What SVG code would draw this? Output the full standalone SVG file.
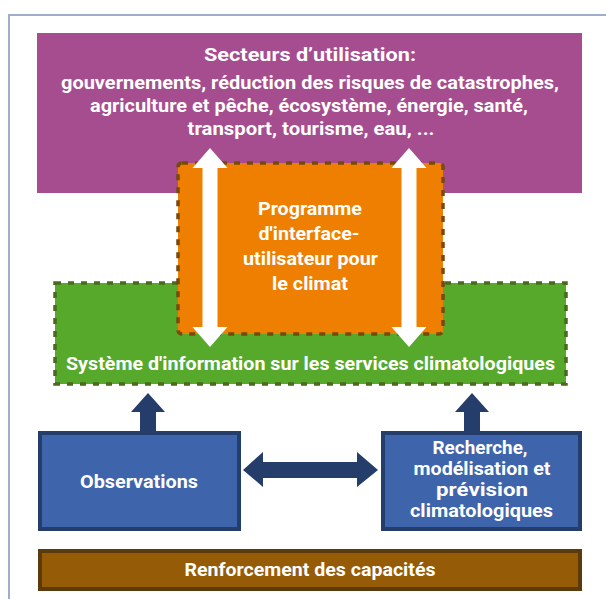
<svg xmlns="http://www.w3.org/2000/svg" width="606" height="599" viewBox="0 0 606 599">
  <defs>
    <style>
      .lbl { font-family: Roboto, "Liberation Sans", Arial, sans-serif; font-weight: bold; font-size: 19px; fill: #ffffff; text-anchor: middle; }
      .frame { fill: none; stroke: #9eaec8; stroke-width: 2; }
      .dashed { stroke-width: 3.5; stroke-dasharray: 6 7; }
      .white-arrow { fill: #ffffff; }
      .navy-arrow { fill: #243d6b; }
    </style>
  </defs>

  <rect width="606" height="599" fill="#ffffff"/>

  <!-- outer frame -->
  <path class="frame" d="M9,599 V15 H606"/>

  <!-- user sectors -->
  <g id="secteurs">
    <rect x="37" y="33" width="545" height="160" fill="#a54d8f"/>
    <text class="lbl" x="310" y="61" textLength="212" lengthAdjust="spacingAndGlyphs">Secteurs d’utilisation:</text>
    <text class="lbl" x="310" y="89" textLength="498" lengthAdjust="spacingAndGlyphs">gouvernements, réduction des risques de catastrophes,</text>
    <text class="lbl" x="309" y="112" textLength="438" lengthAdjust="spacingAndGlyphs">agriculture et pêche, écosystème, énergie, santé,</text>
    <text class="lbl" x="311" y="135" textLength="247" lengthAdjust="spacingAndGlyphs">transport, tourisme, eau, ...</text>
  </g>

  <!-- climate services information system -->
  <g id="sisc">
    <rect class="dashed" x="55" y="283" width="511" height="101" fill="#56a92a" stroke="#4a6a1c"/>
    <text class="lbl" x="310.5" y="370" textLength="489" lengthAdjust="spacingAndGlyphs">Système d'information sur les services climatologiques</text>
  </g>

  <!-- user interface platform -->
  <g id="interface">
    <rect class="dashed" x="178" y="163" width="265" height="171" rx="4" fill="#ef7f00" stroke="#774a0c"/>
    <text class="lbl" x="310" y="215" textLength="104" lengthAdjust="spacingAndGlyphs">Programme</text>
    <text class="lbl" x="309" y="240" textLength="101" lengthAdjust="spacingAndGlyphs">d'interface-</text>
    <text class="lbl" x="310.5" y="265" textLength="135" lengthAdjust="spacingAndGlyphs">utilisateur pour</text>
    <text class="lbl" x="310" y="290" textLength="76" lengthAdjust="spacingAndGlyphs">le climat</text>
  </g>

  <!-- observations -->
  <g id="observations">
    <rect x="40" y="433" width="199" height="96" fill="#3e64ab" stroke="#243d6b" stroke-width="4"/>
    <text class="lbl" x="139" y="488" textLength="118" lengthAdjust="spacingAndGlyphs">Observations</text>
  </g>

  <!-- research, modelling and prediction -->
  <g id="recherche">
    <rect x="383" y="433" width="197" height="96" fill="#3e64ab" stroke="#243d6b" stroke-width="4"/>
    <text class="lbl" x="480" y="454" textLength="95" lengthAdjust="spacingAndGlyphs">Recherche,</text>
    <text class="lbl" x="482" y="475" textLength="137" lengthAdjust="spacingAndGlyphs">modélisation et</text>
    <text class="lbl" x="482" y="496" textLength="92" lengthAdjust="spacingAndGlyphs">prévision</text>
    <text class="lbl" x="481.5" y="517" textLength="143" lengthAdjust="spacingAndGlyphs">climatologiques</text>
  </g>

  <!-- capacity development -->
  <g id="renforcement">
    <rect x="40" y="551" width="540" height="38" fill="#955b06" stroke="#5b3a0b" stroke-width="4"/>
    <text class="lbl" x="310" y="576" textLength="251" lengthAdjust="spacingAndGlyphs">Renforcement des capacités</text>
  </g>

  <!-- connectors -->
  <g id="connectors">
    <!-- two-way links between sectors and the information system -->
    <polygon class="white-arrow" points="210,148 227.5,168 217.5,168 217.5,327 227.5,327 210,347 192.5,327 202.5,327 202.5,168 192.5,168"/>
    <polygon class="white-arrow" points="409,148 426.5,168 416.5,168 416.5,327 426.5,327 409,347 391.5,327 401.5,327 401.5,168 391.5,168"/>
    <!-- inputs to the information system -->
    <polygon class="navy-arrow" points="148,393 165,412 156,412 156,433 140,433 140,412 131,412"/>
    <polygon class="navy-arrow" points="472,393 489,412 480,412 480,433 464,433 464,412 455,412"/>
    <!-- observations <-> research -->
    <polygon class="navy-arrow" points="243,470 263,452 263,462 357,462 357,452 378,470 357,487 357,478 263,478 263,487"/>
  </g>
</svg>
